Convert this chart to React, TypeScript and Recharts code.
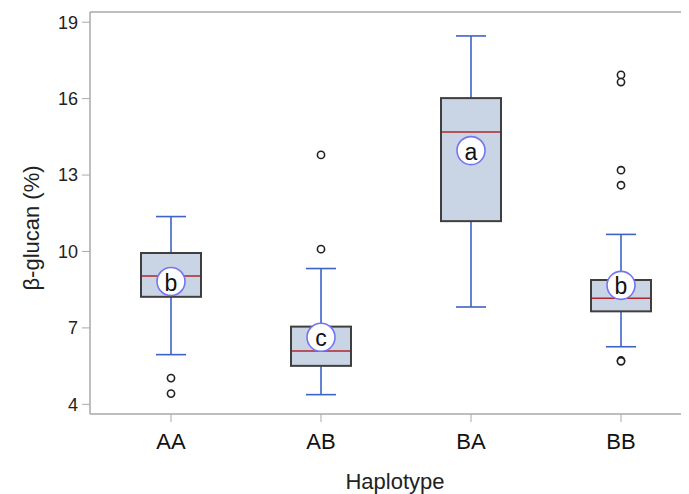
import React from 'react';
import { ComposedChart, Bar, Scatter, XAxis, YAxis, ReferenceLine } from 'recharts';

const haplotypes = ['AA', 'AB', 'BA', 'BB'];
const whiskerLow = [5.95, 4.38, 7.82, 6.26];
const quartile1 = [8.22, 5.51, 11.19, 7.65];
const medians = [9.04, 6.09, 14.69, 8.16];
const quartile3 = [9.94, 7.05, 16.02, 8.88];
const whiskerHigh = [11.37, 9.33, 18.46, 10.67];
const means = [8.82, 6.63, 13.96, 8.67];
const groups = ['b', 'c', 'a', 'b'];
const outliers = [[5.03, 4.42], [13.79, 10.09], [], [16.93, 16.65, 13.19, 12.6, 5.72, 5.69]];
const yTicks = [4, 7, 10, 13, 16, 19];

const FONT = '"Liberation Sans", Arial, sans-serif';

const rows = haplotypes.map((h, i) => ({
    name: h,
    range: [whiskerLow[i], whiskerHigh[i]],
    q1: quartile1[i],
    median: medians[i],
    q3: quartile3[i],
    mean: means[i],
    group: groups[i],
}));

const outlierRows = haplotypes.flatMap((h, i) => outliers[i].map(v => ({ name: h, v })));

// draws whisker + box inside the rect that recharts gives for the [low, high] range
const BoxShape = (props: any) => {
    const { x, y, width, height, payload } = props;
    const top = Math.min(y, y + height);
    const bottom = Math.max(y, y + height);
    const [lo, hi] = payload.range;
    const py = (v: number) => bottom + (v - lo) / (hi - lo) * (top - bottom);
    const cx = x + width / 2;
    const cap = width / 4;
    return (
        <g>
            <line x1={cx} x2={cx} y1={top} y2={bottom} stroke="#3d63c6" strokeWidth={1.6} />
            <line x1={cx - cap} x2={cx + cap} y1={top} y2={top} stroke="#3d63c6" strokeWidth={1.6} />
            <line x1={cx - cap} x2={cx + cap} y1={bottom} y2={bottom} stroke="#3d63c6" strokeWidth={1.6} />
            <rect x={x} y={py(payload.q3)} width={width} height={py(payload.q1) - py(payload.q3)}
                  fill="#c9d5e5" stroke="#3f3f3f" strokeWidth={2} />
            <line x1={x + 1} x2={x + width - 1} y1={py(payload.median)} y2={py(payload.median)} stroke="#b0262c" strokeWidth={1.5} />
        </g>
    );
};

const MeanShape = (props: any) => {
    const { cx, cy, payload } = props;
    return (
        <g>
            <circle cx={cx} cy={cy} r={14} fill="#ffffff" stroke="#7474f2" strokeWidth={1.6} />
            <text x={cx} y={cy + 1} textAnchor="middle" dominantBaseline="central" fontSize={23} fontFamily={FONT} fill="#111">{payload.group}</text>
        </g>
    );
};

const OutlierShape = (props: any) => {
    const { cx, cy } = props;
    return <circle cx={cx} cy={cy} r={3.6} fill="#ffffff" stroke="#222" strokeWidth={1.6} />;
};

const YLabel = (props: any) => {
    const { viewBox } = props;
    const x = viewBox.x + 23;
    const y = viewBox.y + viewBox.height / 2 + 15;
    return <text x={x} y={y} transform={`rotate(-90 ${x} ${y})`} textAnchor="middle" dominantBaseline="central"
                 fontSize={22} fontFamily={FONT} fill="#222">β-glucan (%)</text>;
};

const XLabel = (props: any) => {
    const { viewBox } = props;
    return <text x={viewBox.x + viewBox.width / 2 + 2} y={viewBox.y + 67} textAnchor="middle" dominantBaseline="central"
                 fontSize={22} fontFamily={FONT} fill="#222">Haplotype</text>;
};

const App = () => {
    return (
        <div style={{ width: 681, height: 486, overflow: 'hidden' }}>
            <ComposedChart width={690} height={486} data={rows} margin={{ top: 4, right: 2, bottom: 0, left: 0 }}>
                <XAxis dataKey="name" type="category" allowDuplicatedCategory={false} height={80}
                       padding={{ left: 6, right: 0 }} tickSize={8} tickMargin={11}
                       stroke="#a9a9a9" axisLine={{ stroke: '#a9a9a9', strokeWidth: 1.5 }}
                       tick={{ fontSize: 22, fill: '#111', fontFamily: FONT }} label={<XLabel />} />
                <YAxis type="number" domain={[3.62, 19.4]} ticks={yTicks} allowDataOverflow width={82}
                       tickSize={8} tickMargin={4} stroke="#a9a9a9" axisLine={{ stroke: '#a9a9a9', strokeWidth: 1.5 }}
                       tick={{ fontSize: 18, fill: '#222', fontFamily: FONT }} label={<YLabel />} />
                <ReferenceLine y={19.4} stroke="#a9a9a9" strokeWidth={1.5} ifOverflow="extendDomain" />
                <Bar dataKey="range" barSize={60} shape={<BoxShape />} isAnimationActive={false} />
                <Scatter data={outlierRows} dataKey="v" shape={<OutlierShape />} isAnimationActive={false} />
                <Scatter dataKey="mean" shape={<MeanShape />} isAnimationActive={false} />
            </ComposedChart>
        </div>
    );
};

export default App;
